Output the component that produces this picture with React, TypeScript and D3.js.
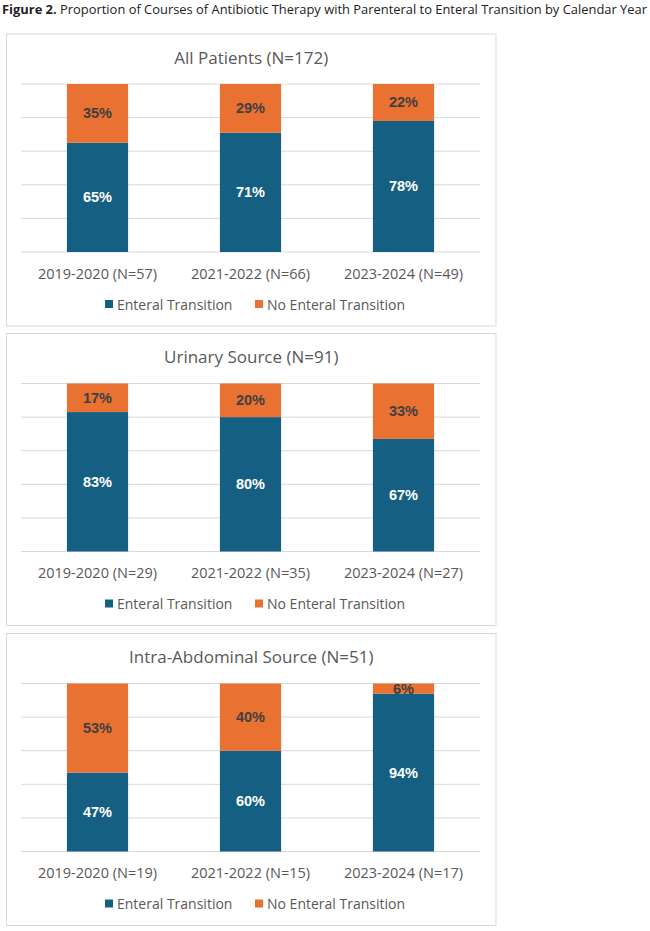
import React from "react";
import * as d3 from "d3";

// Calendar periods on the x axis
const periods = ["2019-2020", "2021-2022", "2023-2024"];

// Panel titles
const panelTitles = ["All Patients (N=172)", "Urinary Source (N=91)", "Intra-Abdominal Source (N=51)"];

// Courses per period, per panel
const allN = [57, 66, 49];
const urinaryN = [29, 35, 27];
const abdominalN = [19, 15, 17];

// Percent of courses with enteral transition
const allEnteral = [65, 71, 78];
const urinaryEnteral = [83, 80, 67];
const abdominalEnteral = [47, 60, 94];

// Percent of courses without enteral transition
const allNoEnteral = [35, 29, 22];
const urinaryNoEnteral = [17, 20, 33];
const abdominalNoEnteral = [53, 40, 6];

const yTicks = [0, 20, 40, 60, 80, 100];
const seriesNames = ["Enteral Transition", "No Enteral Transition"];

const panels = [
  { title: panelTitles[0], n: allN, enteral: allEnteral, noEnteral: allNoEnteral },
  { title: panelTitles[1], n: urinaryN, enteral: urinaryEnteral, noEnteral: urinaryNoEnteral },
  { title: panelTitles[2], n: abdominalN, enteral: abdominalEnteral, noEnteral: abdominalNoEnteral },
];

const BLUE = "#156082";
const ORANGE = "#E97132";
const GRID = "#d9d9d9";
const TEXT = "#595959";
const FONT = "'Open Sans', 'Noto Sans', sans-serif";
const LABEL_FONT = "'Liberation Sans', Arial, sans-serif";

const W = 650;
const H = 931;
const panelX0 = 6.5;
const panelX1 = 496;
const panelTops = [34, 333.5, 633.5];
const panelH = 292;

function Panel({ top, panel }: { top: number; panel: (typeof panels)[number] }) {
  const plotTop = top + 50;
  const plotBottom = top + 218;
  const x = d3.scaleBand<string>().domain(periods).range([21, 480]).paddingInner(0.6).paddingOuter(0.3);
  const y = d3.scaleLinear().domain([0, 100]).range([plotBottom, plotTop]);
  const cx = (panelX0 + panelX1) / 2;

  const stack = d3
    .stack<any>()
    .keys(["enteral", "noEnteral"])(
      periods.map((p, i) => ({ period: p, enteral: panel.enteral[i], noEnteral: panel.noEnteral[i] }))
    );
  const colors = [BLUE, ORANGE];
  const labelColors = ["#ffffff", "#404040"];

  // legend layout
  const legendY = top + 270;
  const sq = 8;

  return (
    <g>
      <rect x={panelX0} y={top} width={panelX1 - panelX0} height={panelH} fill="#fff" stroke={GRID} strokeWidth={1} />
      <text x={cx} y={top + 23} textAnchor="middle" dominantBaseline="central" fontFamily={FONT} fontSize={17} fill={TEXT}>
        {panel.title}
      </text>
      {yTicks.map((t) => (
        <line key={t} x1={21} x2={480} y1={y(t)} y2={y(t)} stroke={GRID} strokeWidth={1} />
      ))}
      {stack.map((layer, li) =>
        layer.map((d, i) => {
          const y0 = y(d[1]);
          const y1 = y(d[0]);
          const value = li === 0 ? panel.enteral[i] : panel.noEnteral[i];
          return (
            <g key={`${li}-${i}`}>
              <rect x={x(periods[i])} y={y0} width={x.bandwidth()} height={y1 - y0} fill={colors[li]} />
              <text
                x={(x(periods[i]) as number) + x.bandwidth() / 2}
                y={(y0 + y1) / 2}
                textAnchor="middle"
                dominantBaseline="central"
                fontFamily={LABEL_FONT}
                fontWeight="bold"
                fontSize={14.5}
                fill={labelColors[li]}
              >
                {value}%
              </text>
            </g>
          );
        })
      )}
      {periods.map((p, i) => (
        <text
          key={p}
          x={(x(p) as number) + x.bandwidth() / 2}
          y={top + 239}
          textAnchor="middle"
          dominantBaseline="central"
          fontFamily={FONT}
          fontSize={14.5}
          fill={TEXT}
        >
          {`${p} (N=${panel.n[i]})`}
        </text>
      ))}
      <g>
        <rect x={105} y={legendY - sq / 2} width={sq} height={sq} fill={BLUE} />
        <text x={117} y={legendY} dominantBaseline="central" fontFamily={FONT} fontSize={14} fill={TEXT}>
          {seriesNames[0]}
        </text>
        <rect x={255} y={legendY - sq / 2} width={sq} height={sq} fill={ORANGE} />
        <text x={267} y={legendY} dominantBaseline="central" fontFamily={FONT} fontSize={14} fill={TEXT}>
          {seriesNames[1]}
        </text>
      </g>
    </g>
  );
}

export default function App() {
  return (
    <div style={{ position: "absolute", left: 0, top: 0 }}>
      <svg width={W} height={H} viewBox={`0 0 ${W} ${H}`} style={{ display: "block", background: "#fff" }}>
        <text x={2} y={14} fontFamily={FONT} fontSize={12.5} fill="#222" textLength={645} lengthAdjust="spacingAndGlyphs">
          <tspan fontWeight="bold">Figure 2.</tspan>
          <tspan> Proportion of Courses of Antibiotic Therapy with Parenteral to Enteral Transition by Calendar Year</tspan>
        </text>
        {panels.map((p, i) => (
          <Panel key={p.title} top={panelTops[i]} panel={p} />
        ))}
      </svg>
    </div>
  );
}
